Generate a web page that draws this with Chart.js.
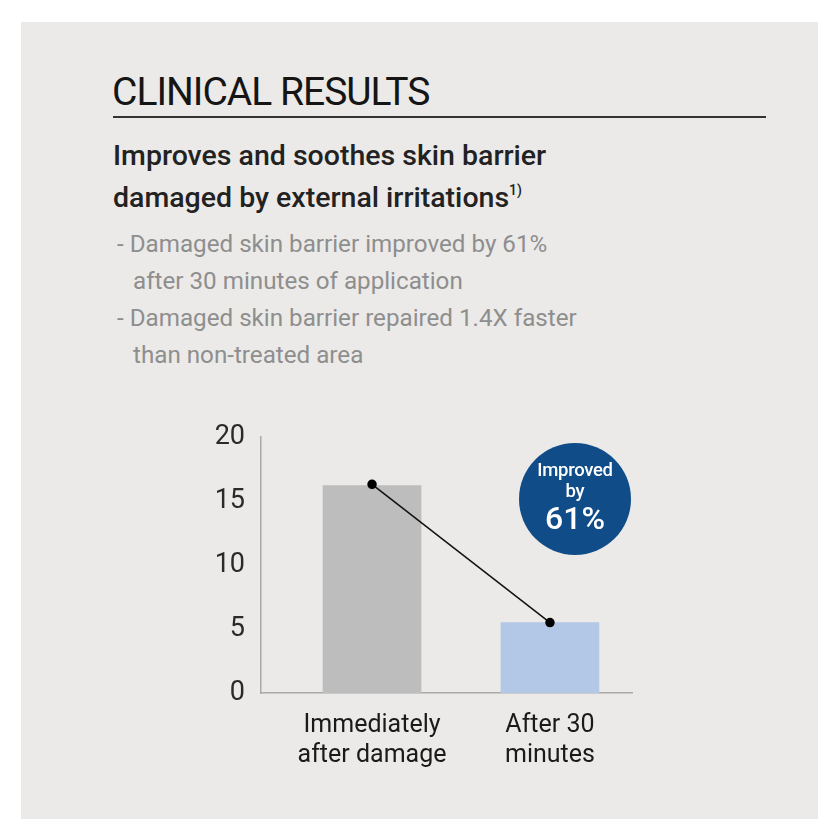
<!DOCTYPE html>
<html>
<head>
<meta charset="utf-8">
<script src="https://cdn.jsdelivr.net/npm/chart.js@4.4.1/dist/chart.umd.min.js"></script>
<style>
  html, body { margin: 0; padding: 0; background: #fff; }
  body { width: 840px; height: 840px; position: relative; overflow: hidden; font-family: Roboto, sans-serif; }
  .panel { position: absolute; left: 21px; top: 22px; width: 797px; height: 797px; background: #ebeae8; }
  .title { position: absolute; left: 112px; top: 73px; font-size: 39px; line-height: 39px; color: #151515; letter-spacing: -1px; }
  .rule { position: absolute; left: 113px; top: 116px; width: 653px; height: 2px; background: #333; }
  .sub { position: absolute; left: 113px; top: 139px; font-size: 28.5px; line-height: 34px; font-weight: 500; color: #222; }
  .sub sup { font-size: 14px; vertical-align: 12px; }
  .notes { position: absolute; left: 117px; top: 226px; font-size: 24.2px; line-height: 37px; color: #8e8e8e; }
  .notes div { padding-left: 16px; text-indent: -16px; }
  .badge { position: absolute; left: 519px; top: 443px; width: 112px; height: 112px; border-radius: 50%; background: #0f4c88; color: #fff; text-align: center; font-weight: 500; }
  .badge .a { margin-top: 17px; font-size: 18.5px; line-height: 21px; letter-spacing: -0.3px; }
  .badge .b { font-size: 32px; line-height: 32px; font-weight: 500; }
  #chart { position: absolute; left: 0; top: 0; }
</style>
</head>
<body>
<div class="panel"></div>
<div class="title">CLINICAL RESULTS</div>
<div class="rule"></div>
<div class="sub">Improves and soothes skin barrier<br>damaged by external irritations<sup>1)</sup></div>
<div class="notes">
  <div>- Damaged skin barrier improved by 61%<br>after 30 minutes of application</div>
  <div>- Damaged skin barrier repaired 1.4X faster<br>than non-treated area</div>
</div>
<canvas id="chart" width="840" height="840"></canvas>
<div class="badge"><div class="a">Improved<br>by</div><div class="b">61%</div></div>
<script>
// dữ liệu
var categories = [["Immediately", "after damage"], ["After 30", "minutes"]];
var barValues = [16.2, 5.5];
var lineValues = [16.3, 5.5];
var yTicks = [0, 5, 10, 15, 20];
var barColors = ["#bdbdbd", "#b3c7e6"];

document.addEventListener("DOMContentLoaded", function () {
    var ctx = document.getElementById("chart");
    new Chart(ctx, {
        data: {
            datasets: [{
                type: 'line',
                data: lineValues.map(function (v, i) { return { x: i, y: v }; }),
                borderColor: "#111",
                borderWidth: 1.5,
                pointRadius: 4,
                pointBackgroundColor: "#000",
                pointBorderColor: "#000",
                order: 0
            }, {
                type: 'bar',
                data: barValues.map(function (v, i) { return { x: i, y: v }; }),
                backgroundColor: barColors,
                barThickness: 98,
                order: 1
            }]
        },
        options: {
            responsive: false,
            animation: false,
            layout: { padding: { left: 201, right: 208, top: 437, bottom: 67 } },
            plugins: { legend: { display: false }, tooltip: { enabled: false } },
            scales: {
                x: {
                    type: 'linear',
                    offset: false,
                    min: -0.624,
                    max: 1.461,
                    grid: { display: false, offset: false },
                    border: { display: true, color: "#aaa", width: 1.5 },
                    afterBuildTicks: function (scale) {
                        scale.ticks = categories.map(function (c, i) { return { value: i }; });
                    },
                    afterFit: function (scale) { scale.height = 80; },
                    ticks: {
                        autoSkip: false,
                        maxRotation: 0,
                        padding: 10,
                        color: "#1a1a1a",
                        font: { family: "Roboto", size: 25, lineHeight: 1.2 },
                        callback: function (value) { return categories[value]; }
                    }
                },
                y: {
                    min: 0,
                    max: 20,
                    grid: { display: false },
                    border: { display: true, color: "#aaa", width: 1.5 },
                    afterBuildTicks: function (scale) {
                        scale.ticks = yTicks.map(function (t) { return { value: t }; });
                    },
                    afterFit: function (scale) { scale.width = 60; },
                    ticks: {
                        padding: 8,
                        color: "#2a2a2a",
                        font: { family: "Roboto", size: 27 }
                    }
                }
            }
        }
    });
});
</script>
</body>
</html>
